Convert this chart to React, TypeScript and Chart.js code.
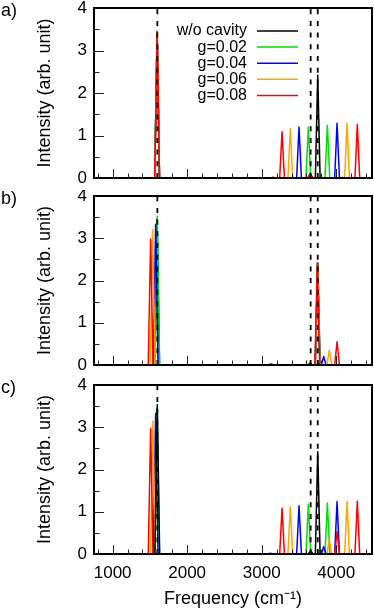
import React, { useEffect, useRef } from 'react';
import { Chart, registerables } from 'chart.js';

Chart.register(...registerables);

const FONT = '"Liberation Sans", Arial, Helvetica, sans-serif';
const X_MIN = 750;
const X_MAX = 4480;
const PEAK_HALF = 32;

const seriesNames = ['w/o cavity', 'g=0.02', 'g=0.04', 'g=0.06', 'g=0.08'];
const seriesColors = ['#000000', '#00e000', '#0000ff', '#ffa500', '#ff0000'];
const panelLabels = ['a)', 'b)', 'c)'];
const dashedLines = [1600, 3657, 3752];
const xTickLabels = [1000, 2000, 3000, 4000];
const xTickMarks = [800, 1000, 1200, 1400, 1600, 1800, 2000, 2200, 2400, 2600, 2800, 3000, 3200, 3400, 3600, 3800, 4000, 4200, 4400];
const yTickMarks = [0, 0.5, 1, 1.5, 2, 2.5, 3, 3.5, 4];

// Peaks: [frequency, intensity]
// Panel a
const aBlack = [[1597, 3.45], [3657, 0.08], [3752, 2.42]];
const aGreen = [[1597, 3.44], [3626, 1.2], [3881, 1.24]];
const aBlue = [[1597, 3.44], [3501, 1.2], [4011, 1.29]];
const aOrange = [[1597, 3.44], [3384, 1.16], [4145, 1.29]];
const aRed = [[1597, 3.44], [3152, 0.02], [3273, 1.09], [3650, 0.11], [4283, 1.26]];
// Panel b
const bBlack = [[1597, 3.45], [3752, 2.42]];
const bGreen = [[1599, 3.52], [3125, 0.03], [3750, 2.41], [3782, 0.08]];
const bBlue = [[1577, 3.33], [3125, 0.02], [3650, 0.05], [3750, 2.41], [3832, 0.2]];
const bOrange = [[1537, 3.2], [3750, 2.41], [3907, 0.35]];
const bRed = [[1510, 2.98], [3746, 2.41], [4011, 0.55]];
// Panel c
const cBlack = [[1599, 3.53], [3657, 0.08], [3752, 2.42]];
const cGreen = [[1597, 3.45], [3626, 1.18], [3782, 0.08], [3881, 1.21]];
const cBlue = [[1577, 3.33], [3115, 0.02], [3501, 1.14], [3832, 0.17], [4011, 1.24]];
const cOrange = [[1541, 3.15], [3384, 1.12], [3907, 0.35], [4145, 1.24]];
const cRed = [[1510, 2.97], [3273, 1.08], [4011, 0.53], [4283, 1.25]];

const panelSeries = [
  [aBlack, aGreen, aBlue, aOrange, aRed],
  [bBlack, bGreen, bBlue, bOrange, bRed],
  [cBlack, cGreen, cBlue, cOrange, cRed],
];
// draw order (lower = on top)
const panelOrders = [
  [4, 3, 2, 1, 0],
  [4, 3, 2, 1, 0],
  [0, 4, 3, 2, 1],
];

function buildPoints(peaks: number[][]) {
  const sorted = [...peaks].sort((a, b) => a[0] - b[0]);
  const pts: { x: number; y: number }[] = [{ x: X_MIN, y: 0 }];
  for (const [c, h] of sorted) {
    pts.push({ x: c - PEAK_HALF, y: 0 }, { x: c, y: h }, { x: c + PEAK_HALF, y: 0 });
  }
  pts.push({ x: X_MAX, y: 0 });
  return pts;
}

const panelGeom = [
  { top: 0, height: 190, padTop: 8, padBottom: 12 },
  { top: 190, height: 185, padTop: 6, padBottom: 10 },
  { top: 375, height: 235, padTop: 10, padBottom: 0 },
];

function makeDecor(idx: number) {
  return {
    id: 'decor' + idx,
    afterDatasetsDraw(chart: any) {
      const { ctx, chartArea } = chart;
      const { left, right, top, bottom } = chartArea;
      const xs = chart.scales.x;
      const ys = chart.scales.y;
      ctx.save();
      // dashed reference lines
      ctx.strokeStyle = '#000';
      ctx.lineWidth = 1.8;
      ctx.setLineDash([5, 6.7]);
      for (const v of dashedLines) {
        const px = xs.getPixelForValue(v);
        ctx.beginPath();
        ctx.moveTo(px, bottom);
        ctx.lineTo(px, top);
        ctx.stroke();
      }
      ctx.setLineDash([]);
      // inward ticks
      ctx.strokeStyle = '#222';
      ctx.lineWidth = 1;
      for (const v of xTickMarks) {
        const px = Math.round(xs.getPixelForValue(v)) + 0.5;
        const len = v % 1000 === 0 ? 9 : 4.5;
        ctx.beginPath();
        ctx.moveTo(px, bottom);
        ctx.lineTo(px, bottom - len);
        ctx.stroke();
      }
      for (const v of yTickMarks) {
        const py = Math.round(ys.getPixelForValue(v)) + 0.5;
        const len = Number.isInteger(v) ? 10 : 5.5;
        ctx.beginPath();
        ctx.moveTo(left, py);
        ctx.lineTo(left + len, py);
        ctx.stroke();
      }
      // frame
      ctx.strokeStyle = '#000';
      ctx.lineWidth = 2;
      ctx.strokeRect(left, top, right - left, bottom - top);
      // panel label
      ctx.fillStyle = '#000';
      ctx.font = '18px ' + FONT;
      ctx.textAlign = 'left';
      ctx.textBaseline = 'middle';
      ctx.fillText(panelLabels[idx], 1, top + 3);
      // legend
      if (idx === 0) {
        ctx.font = '16px ' + FONT;
        ctx.textAlign = 'right';
        seriesNames.forEach((name, i) => {
          const yy = top + 23 + i * 16.1;
          ctx.fillStyle = '#000';
          ctx.fillText(name, 247, yy);
          ctx.strokeStyle = seriesColors[i];
          ctx.lineWidth = 1.5;
          ctx.beginPath();
          ctx.moveTo(257, yy);
          ctx.lineTo(298, yy);
          ctx.stroke();
        });
      }
      ctx.restore();
    },
  };
}

function Panel({ idx }: { idx: number }) {
  const ref = useRef<HTMLCanvasElement | null>(null);
  const g = panelGeom[idx];
  useEffect(() => {
    if (!ref.current) return;
    const isBottom = idx === 2;
    const datasets = panelSeries[idx].map((peaks, i) => ({
      label: seriesNames[i],
      data: buildPoints(peaks),
      borderColor: seriesColors[i],
      backgroundColor: seriesColors[i],
      borderWidth: 1.5,
      pointRadius: 0,
      tension: 0,
      borderJoinStyle: 'round' as const,
      order: panelOrders[idx][i],
    }));
    const chart = new Chart(ref.current, {
      type: 'line',
      data: { datasets },
      plugins: [makeDecor(idx)],
      options: {
        animation: false,
        responsive: false,
        maintainAspectRatio: false,
        devicePixelRatio: 1,
        layout: { padding: { left: 0, right: 2, top: g.padTop, bottom: g.padBottom } },
        plugins: { legend: { display: false }, tooltip: { enabled: false } },
        scales: {
          x: {
            type: 'linear',
            min: X_MIN,
            max: X_MAX,
            display: isBottom,
            grid: { display: false, drawTicks: false },
            border: { display: false },
            afterBuildTicks: (s: any) => {
              s.ticks = xTickLabels.map((v) => ({ value: v }));
            },
            afterFit: (s: any) => {
              if (isBottom) s.height = 56;
              s.paddingLeft = 0;
              s.paddingRight = 0;
            },
            ticks: {
              padding: 9,
              color: '#000',
              maxRotation: 0,
              autoSkip: false,
              font: { family: FONT, size: 17 },
              callback: (v: any) => String(v),
            },
            title: {
              display: true,
              text: 'Frequency (cm\u207B\u00B9)',
              color: '#000',
              font: { family: FONT, size: 18 },
              padding: { top: 0, bottom: 0 },
            },
          },
          y: {
            type: 'linear',
            min: 0,
            max: 4,
            grid: { display: false, drawTicks: false },
            border: { display: false },
            afterFit: (s: any) => {
              s.width = 94;
              s.paddingTop = 0;
              s.paddingBottom = 0;
            },
            ticks: {
              stepSize: 1,
              padding: 7,
              color: '#000',
              font: { family: FONT, size: 17 },
            },
            title: {
              display: true,
              text: 'Intensity (arb. unit)',
              color: '#000',
              font: { family: FONT, size: 18 },
              padding: { top: 34, bottom: 0 },
            },
          },
        },
      } as any,
    });
    return () => chart.destroy();
  }, [idx]);
  return (
    <canvas
      ref={ref}
      width={374}
      height={g.height}
      style={{ position: 'absolute', left: 0, top: g.top, width: 374, height: g.height, display: 'block' }}
    />
  );
}

export default function App() {
  return (
    <div style={{ position: 'absolute', left: 0, top: 0, width: 374, height: 610, background: '#fff', overflow: 'hidden' }}>
      <Panel idx={0} />
      <Panel idx={1} />
      <Panel idx={2} />
    </div>
  );
}
